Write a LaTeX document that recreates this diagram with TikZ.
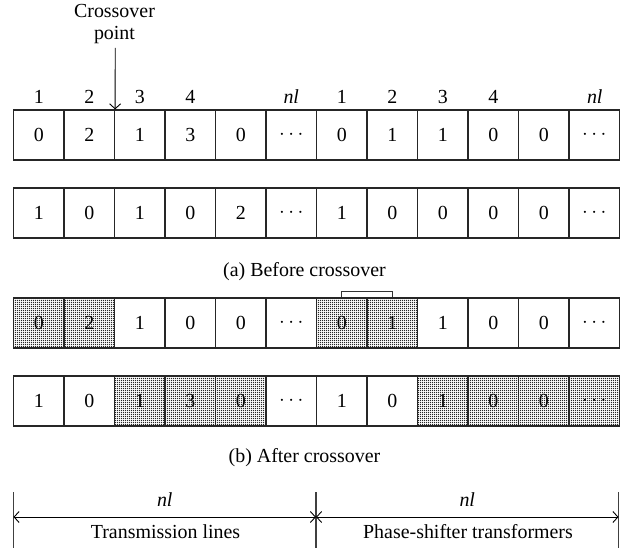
\documentclass[tikz,border=0pt]{standalone}
\usepackage{fontspec}
\setmainfont{Liberation Serif}
\usetikzlibrary{arrows.meta,patterns.meta}
\tikzdeclarepattern{
  name=finedots,
  type=uncolored,
  bottom left={(0pt,0pt)},
  top right={(2pt,2pt)},
  tile size={(2pt,2pt)},
  code={\fill (0pt,0pt) rectangle (1.2pt,1.2pt);}
}
\tikzset{
  cell/.style={draw=black!85, line width=1.2bp, minimum width=50.5bp, minimum height=50bp, inner sep=0pt, anchor=center},
  shade/.style={pattern=finedots, pattern color=black!85},
  plain/.style={},
  lbl/.style={inner sep=1bp},
  arr/.style={-{Straight Barb[length=5bp,width=11bp]}, line width=0.9bp},
  dimarr/.style={{Straight Barb[length=5bp,width=11bp]}-{Straight Barb[length=5bp,width=11bp]}, line width=0.9bp},
  bar/.style={draw=black!75, line width=1.3bp},
  txt/.style={inner sep=1bp}
}
\begin{document}
\begin{tikzpicture}[x=1bp,y=-1bp,font=\fontsize{20}{23}\selectfont]
\useasboundingbox (0,0) rectangle (631,548);
% row 1
\foreach \v/\s [count=\i] in {0/plain,2/plain,1/plain,3/plain,0/plain,$\cdots$/plain,0/plain,1/plain,1/plain,0/plain,0/plain,$\cdots$/plain}
  \node[cell,\s] (ra\i) at ({13.5+(\i-0.5)*50.5},135) {\v};
% row 2
\foreach \v/\s [count=\i] in {1/plain,0/plain,1/plain,0/plain,2/plain,$\cdots$/plain,1/plain,0/plain,0/plain,0/plain,0/plain,$\cdots$/plain}
  \node[cell,\s] (rb\i) at ({13.5+(\i-0.5)*50.5},213) {\v};
% row 3
\foreach \v/\s [count=\i] in {0/shade,2/shade,1/plain,0/plain,0/plain,$\cdots$/plain,0/shade,1/shade,1/plain,0/plain,0/plain,$\cdots$/plain}
  \node[cell,\s] (rc\i) at ({13.5+(\i-0.5)*50.5},323) {\v};
% row 4
\foreach \v/\s [count=\i] in {1/plain,0/plain,1/shade,3/shade,0/shade,$\cdots$/plain,1/plain,0/plain,1/shade,0/shade,0/shade,$\cdots$/shade}
  \node[cell,\s] (rd\i) at ({13.5+(\i-0.5)*50.5},401) {\v};

% index labels
\node[lbl] (l1) at (38.75,97) {1};
\node[lbl] (l2) at (89.25,97) {2};
\node[lbl] (l3) at (139.75,97) {3};
\node[lbl] (l4) at (190.25,97) {4};
\node[lbl] (l6) at (291.25,97) {\itshape nl};
\node[lbl] (l7) at (341.75,97) {1};
\node[lbl] (l8) at (392.25,97) {2};
\node[lbl] (l9) at (442.75,97) {3};
\node[lbl] (l10) at (493.25,97) {4};
\node[lbl] (l12) at (594.75,97) {\itshape nl};

% crossover point
\node[txt, align=center] (co) at (114.5,24) {Crossover\\point};
\coordinate (cos) at (115.25,48);
\draw[arr] (cos) -- (ra2.north east);

% bracket over cells 7-8 of row 3
\draw[line width=1.2bp, draw=black!80] (rc7.north) -- ++(0,-6) -| (rc8.north);

% captions
\node[txt] (capa) at (304.5,272) {(a) Before crossover};
\node[txt] (capb) at (304.5,458) {(b) After crossover};

% dimension
\coordinate (d1t) at (13.5,492);  \coordinate (d1b) at (13.5,548);
\coordinate (d2t) at (316,492);   \coordinate (d2b) at (316,548);
\coordinate (d3t) at (618.5,492); \coordinate (d3b) at (618.5,548);
\coordinate (d1m) at (13.5,517);  \coordinate (d2m) at (316,517); \coordinate (d3m) at (618.5,517);
\draw[bar] (d1t) -- (d1b);
\draw[bar] (d2t) -- (d2b);
\draw[bar] (d3t) -- (d3b);
\draw[dimarr] (d1m) -- (d2m);
\draw[dimarr] (d2m) -- (d3m);
\node[txt] (nla) at (164.75,500) {\itshape nl};
\node[txt] (nlb) at (467.25,500) {\itshape nl};
\node[txt] (tl) at (165.5,532) {Transmission lines};
\node[txt] (ps) at (468,532) {Phase-shifter transformers};
\end{tikzpicture}
\end{document}
